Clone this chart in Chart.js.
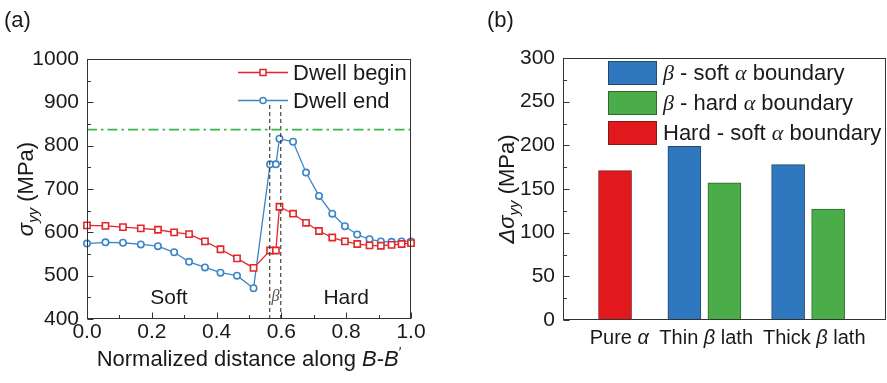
<!DOCTYPE html>
<html><head><meta charset="utf-8">
<script src="https://cdn.jsdelivr.net/npm/chart.js@4.4.1/dist/chart.umd.min.js"></script>
<style>
html,body{margin:0;padding:0;background:#fff;}
#wrap{position:relative;width:887px;height:383px;overflow:hidden;background:#fff}
.pane{position:absolute;top:0;height:383px}
</style></head><body>
<div id="wrap">
  <div class="pane" style="left:0;width:470px"><canvas id="ca" width="470" height="383"></canvas></div>
  <div class="pane" style="left:470px;width:417px"><canvas id="cb" width="417" height="383"></canvas></div>
</div>
<script>
// ---------- Panel (a) data ----------
const distance   = [0.000,0.057,0.111,0.166,0.219,0.269,0.315,0.364,0.412,0.463,0.514,0.565,0.583,0.594,0.636,0.676,0.716,0.757,0.796,0.834,0.872,0.907,0.940,0.971,1.000];
const dwellBegin = [616,615,612,609,606,600,596,579,561,540,518,558,558,659,643,622,603,588,579,573,570,569,571,573,575];
const dwellEnd   = [574,577,576,572,568,554,532,519,507,500,471,757,757,816,809,738,684,643,614,595,584,579,578,579,579];
const referenceStress = 837;            // dash-dot horizontal line
const betaBoundaries  = [0.564, 0.598]; // dashed vertical lines
const betaBoundaryTop = 895;
const yTicksA = [400,500,600,700,800,900,1000];
const xTicksA = [0.0,0.2,0.4,0.6,0.8,1.0];

// ---------- Panel (b) data ----------
const categories = ['Pure α','Thin β lath','Thick β lath'];
const betaSoft   = [null,199,178];
const betaHard   = [null,157,127];
const hardSoft   = [171,null,null];
const yTicksB    = [0,50,100,150,200,250,300];

// ---------- styling / layout ----------
const SANS  = "'Liberation Sans', Arial, Helvetica, sans-serif";
const SERIF = "'Liberation Serif', 'Times New Roman', serif";
const INK = '#1a1a1a', FRAME = '#333333';
const RED = '#e3262b', BLUE = '#3a86c8', GREEN_LINE = '#39b54a';
const groupX = [0.95, 3.44, 6.33];   // category centres on panel (b) x scale (0..8)
const labelX = [1.07, 3.49, 6.50];   // category label centres on the same scale
const barPitch = 1.115;

Chart.defaults.font.family = SANS;
Chart.defaults.color = INK;

function richText(ctx, parts, x, y, align) {
  let w = 0;
  for (const p of parts) { ctx.font = p[1]; w += ctx.measureText(p[0]).width; }
  let cx = align === 'center' ? x - w / 2 : (align === 'right' ? x - w : x);
  ctx.textAlign = 'left';
  for (const p of parts) { ctx.font = p[1]; ctx.fillText(p[0], cx, y + (p[2] || 0)); cx += ctx.measureText(p[0]).width; }
}

function frameAndTicks(chart, spec) {
  const {ctx, chartArea: a} = chart;
  const L = Math.round(a.left) + 0.5, R = Math.round(a.right) - 0.5;
  const T = Math.round(a.top) + 0.5, B = Math.round(a.bottom) - 0.5;
  ctx.save();
  ctx.strokeStyle = FRAME; ctx.lineWidth = 1;
  ctx.strokeRect(L, T, R - L, B - T);
  const ys = chart.scales.y;
  const nY = Math.round((ys.max - ys.min) / spec.yMinor);
  for (let i = 0; i <= nY; i++) {
    const v = ys.min + i * spec.yMinor;
    const p = Math.round(ys.getPixelForValue(v)) + 0.5;
    const major = i % Math.round(spec.yMajor / spec.yMinor) === 0;
    ctx.beginPath(); ctx.moveTo(L, p); ctx.lineTo(L + (major ? 6 : 3.5), p); ctx.stroke();
  }
  if (spec.xMinor) {
    const xs = chart.scales.x;
    const nX = Math.round((xs.max - xs.min) / spec.xMinor);
    for (let i = 0; i <= nX; i++) {
      const v = xs.min + i * spec.xMinor;
      const p = Math.round(xs.getPixelForValue(v)) + 0.5;
      const major = i % Math.round(spec.xMajor / spec.xMinor) === 0;
      ctx.beginPath(); ctx.moveTo(p, B); ctx.lineTo(p, B - (major ? 6 : 3.5)); ctx.stroke();
    }
  }
  ctx.restore();
}

// ---------- Panel (a) ----------
const pts = (ys) => distance.map((d, i) => ({x: d, y: ys[i]}));
const decorA = {
  id: 'decorA',
  afterDatasetsDraw(chart) {
    const ctx = chart.ctx, xs = chart.scales.x, ys = chart.scales.y;
    frameAndTicks(chart, {yMajor: 100, yMinor: 50, xMajor: 0.2, xMinor: 0.1});
    ctx.save();
    ctx.fillStyle = INK; ctx.textBaseline = 'alphabetic';
    // panel label
    ctx.font = '22px ' + SANS; ctx.textAlign = 'left';
    ctx.fillText('(a)', 4, 27);
    // region labels
    ctx.font = '21px ' + SANS; ctx.textAlign = 'center'; ctx.textBaseline = 'middle';
    ctx.fillText('Soft', xs.getPixelForValue(0.253), ys.getPixelForValue(447));
    ctx.fillText('Hard', xs.getPixelForValue(0.80), ys.getPixelForValue(447));
    ctx.fillStyle = '#555';
    ctx.font = 'italic 16px ' + SERIF;
    ctx.fillText('β', xs.getPixelForValue(0.582), ys.getPixelForValue(452));
    // legend
    const items = [[RED, 'rect', 'Dwell begin', 72.5], [BLUE, 'circle', 'Dwell end', 100.5]];
    for (const it of items) {
      ctx.strokeStyle = it[0]; ctx.lineWidth = 1.3;
      ctx.beginPath(); ctx.moveTo(238, it[3]); ctx.lineTo(288, it[3]); ctx.stroke();
      ctx.fillStyle = '#fff'; ctx.strokeStyle = it[0]; ctx.lineWidth = 1.5;
      ctx.beginPath();
      if (it[1] === 'rect') ctx.rect(260, it[3] - 3, 6, 6); else ctx.arc(263, it[3], 3, 0, Math.PI * 2);
      ctx.fill(); ctx.stroke();
      ctx.fillStyle = INK; ctx.font = '22px ' + SANS; ctx.textAlign = 'left'; ctx.textBaseline = 'middle';
      ctx.fillText(it[2], 293, it[3] + 1);
    }
    // axis titles
    ctx.textBaseline = 'alphabetic';
    richText(ctx, [['Normalized distance along ', '22px ' + SANS], ['B', 'italic 22px ' + SANS], ['-', '22px ' + SANS], ['B', 'italic 22px ' + SANS], ['′', '14px ' + SANS, -9]], (chart.chartArea.left + chart.chartArea.right) / 2, 366, 'center');
    ctx.translate(33, (chart.chartArea.top + chart.chartArea.bottom) / 2);
    ctx.rotate(-Math.PI / 2);
    richText(ctx, [['σ', 'italic 22px ' + SANS], ['yy', 'italic 15px ' + SANS, 5], [' (MPa)', '22px ' + SANS]], 0, 0, 'center');
    ctx.restore();
  }
};

new Chart(document.getElementById('ca'), {
  type: 'line',
  data: {
    datasets: [
      {label: 'ref', data: [{x: 0, y: referenceStress}, {x: 1, y: referenceStress}], borderColor: GREEN_LINE, borderWidth: 1.6, borderDash: [10, 4, 2.5, 4], pointRadius: 0},
      ...betaBoundaries.map(b => ({label: 'b', data: [{x: b, y: 400}, {x: b, y: betaBoundaryTop}], borderColor: '#333', borderWidth: 1.1, borderDash: [4, 3], pointRadius: 0})),
      {label: 'Dwell begin', data: pts(dwellBegin), borderColor: RED, borderWidth: 1.3, pointStyle: 'rect', pointRadius: 4.4, pointBorderWidth: 1.6, pointBackgroundColor: '#fff', pointBorderColor: RED, tension: 0},
      {label: 'Dwell end', data: pts(dwellEnd), borderColor: BLUE, borderWidth: 1.3, pointStyle: 'circle', pointRadius: 3.2, pointBorderWidth: 1.6, pointBackgroundColor: '#fff', pointBorderColor: BLUE, tension: 0}
    ]
  },
  options: {
    responsive: false, animation: false, clip: false,
    layout: {padding: {left: 0, right: 59, top: 59, bottom: 0}},
    plugins: {legend: {display: false}, tooltip: {enabled: false}},
    scales: {
      x: {type: 'linear', min: 0, max: 1, afterFit(s) { s.height = 64; },
          grid: {display: false, drawTicks: false}, border: {display: false},
          afterBuildTicks(s) { s.ticks = xTicksA.map(v => ({value: v})); },
          ticks: {padding: 1, font: {size: 21}, color: INK, maxRotation: 0, callback: v => Number(v).toFixed(1)}},
      y: {type: 'linear', min: 400, max: 1000, afterFit(s) { s.width = 87; },
          grid: {display: false, drawTicks: false}, border: {display: false},
          afterBuildTicks(s) { s.ticks = yTicksA.map(v => ({value: v})); },
          ticks: {padding: 8, font: {size: 21}, color: INK, callback: v => String(v)}}
    }
  },
  plugins: [decorA]
});

// ---------- Panel (b) ----------
const seriesB = [betaSoft, betaHard, hardSoft];
function barPoints(k) {
  const out = [];
  categories.forEach((c, i) => {
    const present = seriesB.map((s, j) => (s[i] != null ? j : -1)).filter(j => j >= 0);
    const idx = present.indexOf(k);
    if (idx < 0) return;
    out.push({x: groupX[i] + (idx - (present.length - 1) / 2) * barPitch, y: seriesB[k][i]});
  });
  return out;
}
const legendB = [
  ['#2f77bf', '#27476b', [['β', 'italic 22px ' + SERIF], [' - soft ', '22px ' + SANS], ['α', 'italic 22px ' + SERIF], [' boundary', '22px ' + SANS]]],
  ['#4aad4a', '#2f6a30', [['β', 'italic 22px ' + SERIF], [' - hard ', '22px ' + SANS], ['α', 'italic 22px ' + SERIF], [' boundary', '22px ' + SANS]]],
  ['#e2191c', '#7e1b1b', [['Hard - soft ', '22px ' + SANS], ['α', 'italic 22px ' + SERIF], [' boundary', '22px ' + SANS]]]
];
const decorB = {
  id: 'decorB',
  afterDatasetsDraw(chart) {
    const ctx = chart.ctx, xs = chart.scales.x, a = chart.chartArea;
    frameAndTicks(chart, {yMajor: 50, yMinor: 25});
    ctx.save();
    ctx.fillStyle = INK; ctx.textBaseline = 'alphabetic';
    ctx.font = '22px ' + SANS; ctx.textAlign = 'left';
    ctx.fillText('(b)', 17, 27);
    // category labels
    const F = '20px ' + SANS, FI = 'italic 20px ' + SANS;
    const catParts = [
      [['Pure ', F], ['α', FI]],
      [['Thin ', F], ['β', FI], [' lath', F]],
      [['Thick ', F], ['β', FI], [' lath', F]]
    ];
    catParts.forEach((p, i) => richText(ctx, p, xs.getPixelForValue(labelX[i]), 344, 'center'));
    // legend
    legendB.forEach((it, i) => {
      const y = 61 + i * 30;
      ctx.fillStyle = it[0]; ctx.fillRect(138, y, 49, 24);
      ctx.strokeStyle = it[1]; ctx.lineWidth = 1; ctx.strokeRect(138.5, y + 0.5, 48, 23);
      ctx.fillStyle = INK; ctx.textBaseline = 'middle';
      richText(ctx, it[2], 193, y + 13, 'left');
    });
    // y title
    ctx.textBaseline = 'alphabetic';
    ctx.translate(44, (a.top + a.bottom) / 2);
    ctx.rotate(-Math.PI / 2);
    richText(ctx, [['Δσ', 'italic 22px ' + SANS], ['yy', 'italic 15px ' + SANS, 5], [' (MPa)', '22px ' + SANS]], 0, 0, 'center');
    ctx.restore();
  }
};

new Chart(document.getElementById('cb'), {
  type: 'bar',
  data: {
    datasets: [
      {label: 'β - soft α boundary', data: barPoints(0), backgroundColor: legendB[0][0], borderColor: legendB[0][1], borderWidth: 1},
      {label: 'β - hard α boundary', data: barPoints(1), backgroundColor: legendB[1][0], borderColor: legendB[1][1], borderWidth: 1},
      {label: 'Hard - soft α boundary', data: barPoints(2), backgroundColor: legendB[2][0], borderColor: legendB[2][1], borderWidth: 1}
    ]
  },
  options: {
    responsive: false, animation: false,
    datasets: {bar: {grouped: false, barThickness: 33}},
    layout: {padding: {left: 0, right: 1, top: 58, bottom: 0}},
    plugins: {legend: {display: false}, tooltip: {enabled: false}},
    scales: {
      x: {type: 'linear', min: 0, max: 8, afterFit(s) { s.height = 63; },
          ticks: {display: false}, grid: {display: false, drawTicks: false}, border: {display: false}},
      y: {type: 'linear', min: 0, max: 300, afterFit(s) { s.width = 93; },
          grid: {display: false, drawTicks: false}, border: {display: false},
          afterBuildTicks(s) { s.ticks = yTicksB.map(v => ({value: v})); },
          ticks: {padding: 8, font: {size: 21}, color: INK, callback: v => String(v)}}
    }
  },
  plugins: [decorB]
});
</script>
</body></html>
